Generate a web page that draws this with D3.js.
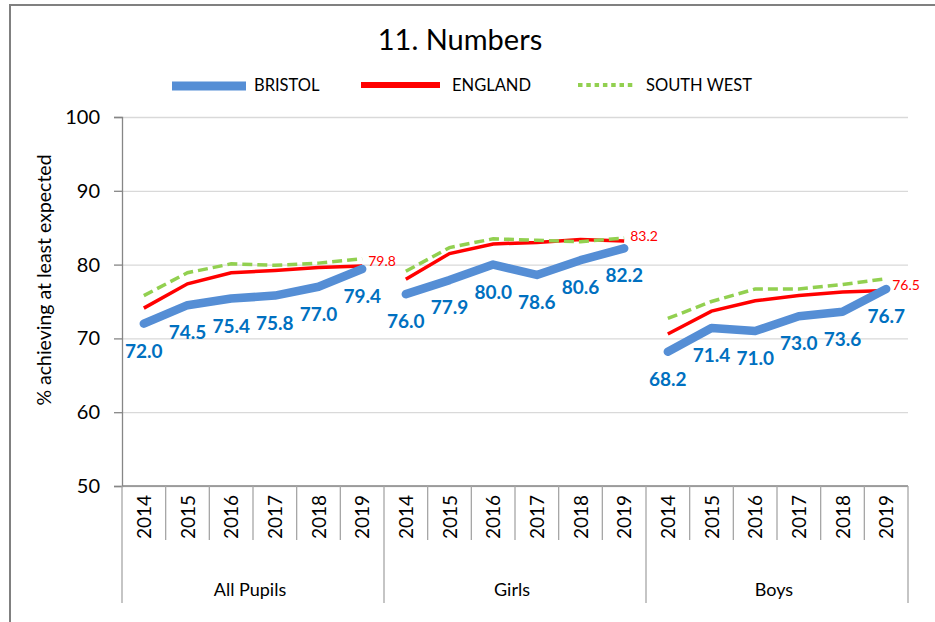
<!DOCTYPE html>
<html>
<head>
<meta charset="utf-8">
<script src="https://cdn.jsdelivr.net/npm/d3@7"></script>
<style>
  html, body { margin: 0; padding: 0; background: #fff; }
  svg { display: block; font-family: Lato, "Noto Sans", sans-serif; }
</style>
</head>
<body>
<svg id="chart" width="935" height="622"></svg>
<script>
// data
const groups = ["All Pupils", "Girls", "Boys"];
const years = ["2014", "2015", "2016", "2017", "2018", "2019"];
const seriesNames = ["BRISTOL", "ENGLAND", "SOUTH WEST"];

const bristol = [
  [72.0, 74.5, 75.4, 75.8, 77.0, 79.4],
  [76.0, 77.9, 80.0, 78.6, 80.6, 82.2],
  [68.2, 71.4, 71.0, 73.0, 73.6, 76.7]
];
const england = [
  [74.1, 77.4, 78.9, 79.2, 79.6, 79.8],
  [78.0, 81.5, 82.8, 83.0, 83.4, 83.2],
  [70.6, 73.7, 75.1, 75.8, 76.3, 76.5]
];
const southWest = [
  [75.8, 78.9, 80.1, 79.9, 80.2, 80.8],
  [79.1, 82.3, 83.5, 83.3, 83.1, 83.6],
  [72.7, 75.0, 76.7, 76.7, 77.3, 78.1]
];
const yTicks = [50, 60, 70, 80, 90, 100];

const svg = d3.select("#chart");

// plot box
const plotLeft = 122, plotRight = 908, plotTop = 117, plotBottom = 486;

const y = d3.scaleLinear().domain([50, 100]).range([plotBottom, plotTop]);
const xGroup = d3.scaleBand().domain(groups).range([plotLeft, plotRight]);
const xYear = d3.scaleBand().domain(years).range([0, xGroup.bandwidth()]);
const xPos = (g, i) => xGroup(g) + xYear(years[i]) + xYear.bandwidth() / 2;

// outer frame (only top and left edges show)
svg.append("path")
  .attr("d", `M10,622 L10,5 L935,5`)
  .attr("fill", "none")
  .attr("stroke", "#808080")
  .attr("stroke-width", 2);

// title
svg.append("text")
  .attr("x", 460)
  .attr("y", 50)
  .attr("text-anchor", "middle")
  .style("font-size", "29px")
  .style("fill", "#000")
  .text("11. Numbers");

// gridlines
svg.append("g")
  .attr("transform", `translate(${plotLeft},0)`)
  .call(d3.axisLeft(y).tickValues(yTicks).tickSize(-(plotRight - plotLeft)).tickFormat(""))
  .call(g => g.select(".domain").remove())
  .call(g => g.selectAll("line").attr("stroke", "#d9d9d9").attr("stroke-width", 1.3));

// y axis
svg.append("g")
  .attr("transform", `translate(${plotLeft},0)`)
  .call(d3.axisLeft(y).tickValues(yTicks).tickSize(8).tickPadding(14))
  .call(g => g.select(".domain").attr("stroke", "#868686").attr("stroke-width", 1.3))
  .call(g => g.selectAll("line").attr("stroke", "#868686").attr("stroke-width", 1.3))
  .call(g => g.selectAll("text")
    .style("font-family", "Lato, sans-serif")
    .style("font-size", "20px")
    .attr("fill", "#000"));

svg.append("text")
  .attr("transform", `translate(51,280) rotate(-90)`)
  .attr("text-anchor", "middle")
  .style("font-size", "19.5px")
  .style("fill", "#000")
  .text("% achieving at least expected");

// x axis: baseline, slot separators, group separators
const xAxis = svg.append("g");
xAxis.append("line")
  .attr("x1", plotLeft).attr("x2", plotRight)
  .attr("y1", plotBottom).attr("y2", plotBottom)
  .attr("stroke", "#868686").attr("stroke-width", 1.3);

groups.forEach((g, gi) => {
  years.forEach((yr, i) => {
    const x0 = xGroup(g) + xYear(yr);
    xAxis.append("line")
      .attr("x1", x0).attr("x2", x0)
      .attr("y1", plotBottom).attr("y2", i === 0 ? 603 : 540)
      .attr("stroke", "#a6a6a6").attr("stroke-width", 1.3);
    xAxis.append("text")
      .attr("transform", `translate(${xPos(g, i) + 7},517) rotate(-90)`)
      .attr("text-anchor", "middle")
      .style("font-size", "19px")
      .style("fill", "#000")
      .text(yr);
  });
  xAxis.append("text")
    .attr("x", xGroup(g) + xGroup.bandwidth() / 2 - 3)
    .attr("y", 596)
    .attr("text-anchor", "middle")
    .style("font-size", "18px")
    .style("fill", "#000")
    .text(g);
});
xAxis.append("line")
  .attr("x1", plotRight).attr("x2", plotRight)
  .attr("y1", plotBottom).attr("y2", 603)
  .attr("stroke", "#a6a6a6").attr("stroke-width", 1.3);

// lines, one piece per group
const line = d3.line()
  .x(d => d.x)
  .y(d => y(d.v));

function pts(arr, g, gi) {
  return arr[gi].map((v, i) => ({ x: xPos(g, i), v }));
}

const plot = svg.append("g");
groups.forEach((g, gi) => {
  plot.append("path")
    .datum(pts(england, g, gi))
    .attr("d", line)
    .attr("fill", "none")
    .attr("stroke", "#ff0000")
    .attr("stroke-width", 3.5);
  plot.append("path")
    .datum(pts(southWest, g, gi))
    .attr("d", line)
    .attr("fill", "none")
    .attr("stroke", "#92d050")
    .attr("stroke-width", 3.5)
    .attr("stroke-dasharray", "10,5");
  plot.append("path")
    .datum(pts(bristol, g, gi))
    .attr("d", line)
    .attr("fill", "none")
    .attr("stroke", "#558ed5")
    .attr("stroke-width", 8.5)
    .attr("stroke-linecap", "round")
    .attr("stroke-linejoin", "round");

  // bristol labels below each point
  pts(bristol, g, gi).forEach(d => {
    plot.append("text")
      .attr("x", d.x)
      .attr("y", y(d.v) + 34)
      .attr("text-anchor", "middle")
      .style("font-size", "19px")
      .style("font-weight", "bold")
      .style("fill", "#0070c0")
      .text(d.v.toFixed(1));
  });

  // england label at the end of each piece
  const last = england[gi][years.length - 1];
  plot.append("text")
    .attr("x", xPos(g, years.length - 1) + 6)
    .attr("y", y(last))
    .style("font-size", "14px")
    .style("fill", "#ff0000")
    .text(last.toFixed(1));
});

// legend
const legend = svg.append("g");
const legendItems = [
  { name: seriesNames[0], x1: 172, x2: 246, tx: 254, y: 86, color: "#558ed5", w: 9, dash: null },
  { name: seriesNames[1], x1: 361, x2: 440, tx: 452, y: 85, color: "#ff0000", w: 6, dash: null },
  { name: seriesNames[2], x1: 578, x2: 636, tx: 646, y: 85, color: "#92d050", w: 4, dash: "4.5,3.8" }
];
legendItems.forEach(d => {
  legend.append("line")
    .attr("x1", d.x1).attr("x2", d.x2)
    .attr("y1", d.y).attr("y2", d.y)
    .attr("stroke", d.color)
    .attr("stroke-width", d.w)
    .attr("stroke-dasharray", d.dash);
  legend.append("text")
    .attr("x", d.tx)
    .attr("y", 91)
    .style("font-size", "16.5px")
    .style("fill", "#000")
    .text(d.name);
});
</script>
</body>
</html>
